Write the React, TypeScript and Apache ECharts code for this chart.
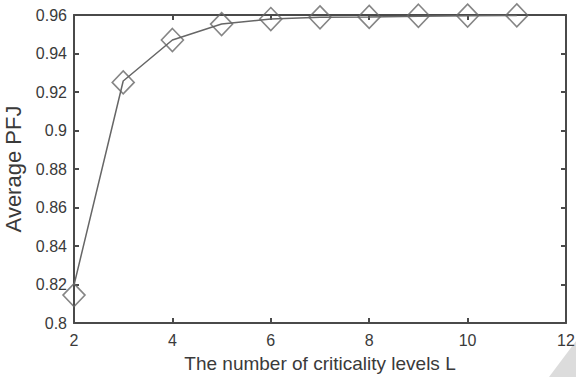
import React, { useEffect, useRef } from "react";
import * as echarts from "echarts";

const levels = [2, 3, 4, 5, 6, 7, 8, 9, 10, 11];
const lineValues = [0.8197, 0.9257, 0.947, 0.9553, 0.9579, 0.9588, 0.959, 0.9594, 0.9596, 0.9598];
const markerValues = [0.8145, 0.925, 0.947, 0.9553, 0.9579, 0.9588, 0.959, 0.9596, 0.9597, 0.9598];
const xTicks = [2, 4, 6, 8, 10, 12];
const yTicks = [0.8, 0.82, 0.84, 0.86, 0.88, 0.9, 0.92, 0.94, 0.96];

const FONT = "Liberation Sans";
const AXIS = "#4a4a4a";
const TEXT = "#3a3a3a";

export default function App() {
  const ref = useRef<HTMLDivElement>(null);
  useEffect(() => {
    if (!ref.current) return;
    const chart = echarts.init(ref.current, undefined, { renderer: "svg" });
    const fmtY = (v: number) => String(Number(v.toFixed(2)));
    chart.setOption({
      animation: false,
      textStyle: { fontFamily: FONT },
      grid: { left: 74, right: 10, top: 15, bottom: 54, containLabel: false, outerBoundsMode: "none" },
      xAxis: [
        {
          type: "value",
          min: xTicks[0],
          max: xTicks[xTicks.length - 1],
          interval: 2,
          position: "bottom",
          name: "The number of criticality levels L",
          nameLocation: "middle",
          nameGap: 31,
          nameTextStyle: { fontSize: 19, color: TEXT, fontFamily: FONT },
          axisLine: { lineStyle: { color: AXIS, width: 2 } },
          axisTick: { inside: true, length: 5, lineStyle: { color: AXIS, width: 2 } },
          axisLabel: { fontSize: 16, color: TEXT, margin: 9, fontFamily: FONT },
          splitLine: { show: false },
        },
        {
          type: "value",
          min: xTicks[0],
          max: xTicks[xTicks.length - 1],
          interval: 2,
          position: "top",
          axisLine: { show: true, lineStyle: { color: AXIS, width: 2 } },
          axisTick: { inside: true, length: 5, lineStyle: { color: AXIS, width: 2 } },
          axisLabel: { show: false },
          splitLine: { show: false },
        },
      ],
      yAxis: [
        {
          type: "value",
          min: yTicks[0],
          max: yTicks[yTicks.length - 1],
          interval: 0.02,
          position: "left",
          name: "Average PFJ",
          nameLocation: "middle",
          nameGap: 38,
          nameTextStyle: { fontSize: 22, color: TEXT, fontFamily: FONT },
          axisLine: { show: true, lineStyle: { color: AXIS, width: 2 } },
          axisTick: { show: true, inside: true, length: 5, lineStyle: { color: AXIS, width: 2 } },
          axisLabel: { fontSize: 16, color: TEXT, margin: 7, formatter: fmtY, fontFamily: FONT },
          splitLine: { show: false },
        },
        {
          type: "value",
          min: yTicks[0],
          max: yTicks[yTicks.length - 1],
          interval: 0.02,
          position: "right",
          axisLine: { show: true, lineStyle: { color: AXIS, width: 2 } },
          axisTick: { show: true, inside: true, length: 5, lineStyle: { color: AXIS, width: 2 } },
          axisLabel: { show: false },
          splitLine: { show: false },
        },
      ],
      series: [
        {
          type: "line",
          data: levels.map((x, i) => [x, lineValues[i]]),
          showSymbol: false,
          symbol: "none",
          lineStyle: { color: "#666", width: 1.5 },
          clip: false,
          z: 3,
        },
        {
          type: "scatter",
          data: levels.map((x, i) => [x, markerValues[i]]),
          symbol: "diamond",
          symbolSize: [22, 23],
          itemStyle: { color: "rgba(0,0,0,0)", borderColor: "#666", borderWidth: 1.6 },
          clip: false,
          z: 4,
        },
      ],
      graphic: [
        {
          type: "polygon",
          silent: true,
          z: -1,
          shape: { points: [[549, 377], [576, 377], [576, 341]] },
          style: { fill: "#dcdcdc" },
        },
      ],
    });
    return () => chart.dispose();
  }, []);
  return (
    <div
      ref={ref}
      style={{ position: "fixed", left: 0, top: 0, width: 576, height: 377, background: "#fff" }}
    />
  );
}
